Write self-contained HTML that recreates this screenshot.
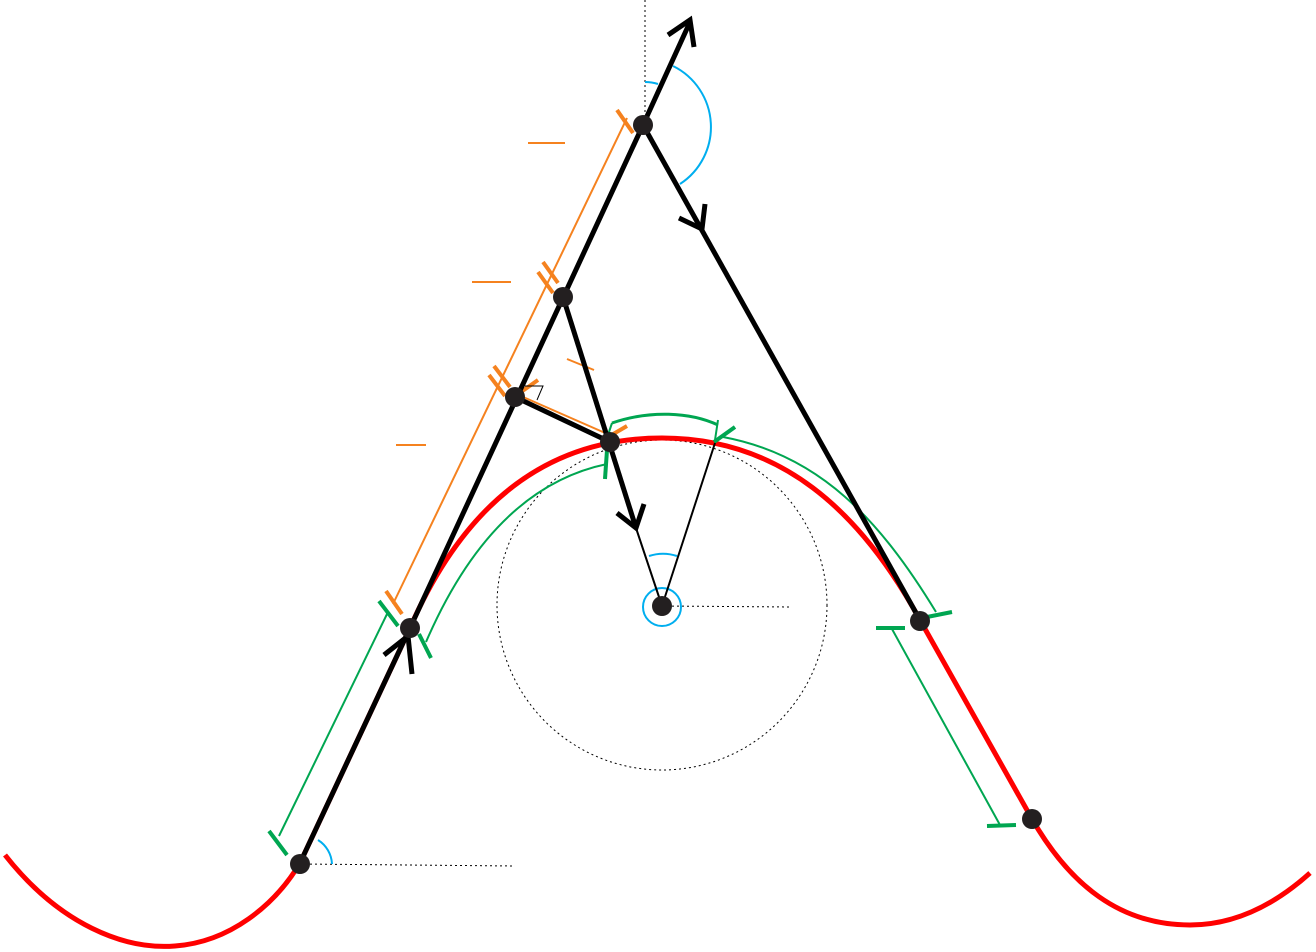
<!DOCTYPE html>
<html><head><meta charset="utf-8"><style>html,body{margin:0;padding:0;background:#fff}svg{display:block}</style></head>
<body>
<svg width="1316" height="952" viewBox="0 0 1316 952" xmlns="http://www.w3.org/2000/svg">
<g fill="none" stroke="#000" stroke-width="1" stroke-dasharray="2,3">
<line x1="645" y1="0" x2="645" y2="125"/>
<line x1="300" y1="864" x2="515" y2="866"/>
<line x1="662" y1="606" x2="792" y2="607"/>
<circle cx="662" cy="605" r="165"/>
</g>
<g fill="none" stroke="#f00" stroke-width="5">
<path d="M5,855 C60,925 125,950 175,946 C230,942 275,905 300,863 L410,628 C470,490 560,438 662,438 C780,438 860,510 920,620 L1032,819 C1070,885 1120,925 1190,925 C1240,925 1280,900 1310,873"/>
</g>
<g fill="none" stroke="#f5821f">
<line x1="393" y1="604" x2="627" y2="118" stroke-width="2"/>
<line x1="386" y1="591" x2="402" y2="614" stroke-width="4"/>
<line x1="617" y1="110" x2="633" y2="133" stroke-width="4"/>
<line x1="538" y1="272" x2="553" y2="293" stroke-width="4"/>
<line x1="543" y1="262" x2="558" y2="283" stroke-width="4"/>
<line x1="489" y1="375" x2="505" y2="396" stroke-width="4"/>
<line x1="494" y1="366" x2="510" y2="387" stroke-width="4"/>
<line x1="514" y1="393" x2="612" y2="436" stroke-width="2"/>
<line x1="514" y1="397" x2="538" y2="380" stroke-width="4"/>
<line x1="603" y1="440" x2="627" y2="426" stroke-width="4"/>
<line x1="528" y1="143" x2="565" y2="143" stroke-width="2"/>
<line x1="472" y1="282" x2="511" y2="282" stroke-width="2"/>
<line x1="396" y1="445" x2="426" y2="445" stroke-width="2"/>
<line x1="567" y1="359" x2="594" y2="370" stroke-width="2"/>
</g>
<g fill="none" stroke="#00a651">
<line x1="279" y1="836" x2="388" y2="612" stroke-width="2"/>
<line x1="269" y1="831" x2="287" y2="855" stroke-width="4"/>
<line x1="379" y1="601" x2="398" y2="626" stroke-width="4"/>
<path d="M426,642 C470,540 530,480 607,464" stroke-width="2"/>
<line x1="419" y1="634" x2="431" y2="658" stroke-width="4"/>
<line x1="607" y1="450" x2="605" y2="479" stroke-width="4"/>
<path d="M612,423 C650,410 690,412 718,425" stroke-width="3"/>
<line x1="612" y1="423" x2="608" y2="435" stroke-width="2"/>
<line x1="718" y1="420" x2="715" y2="440" stroke-width="2"/>
<line x1="714" y1="442" x2="735" y2="427" stroke-width="4"/>
<path d="M723,437 C820,455 880,520 936,612" stroke-width="2"/>
<line x1="922" y1="618" x2="952" y2="612" stroke-width="4"/>
<line x1="892" y1="629" x2="1000" y2="825" stroke-width="2"/>
<line x1="876" y1="628" x2="905" y2="628" stroke-width="4"/>
<line x1="987" y1="826" x2="1016" y2="825" stroke-width="4"/>
</g>
<g fill="none" stroke="#00aeef" stroke-width="2">
<path d="M645,82 A43,43 0 0 1 658,84"/>
<path d="M673,66 A68,68 0 0 1 680,184"/>
<path d="M318,840 A30,30 0 0 1 332,864"/>
<path d="M649,556 A45,45 0 0 1 677,556"/>
<circle cx="662" cy="607" r="19"/>
</g>
<g fill="none" stroke="#000" stroke-linecap="butt">
<line x1="300" y1="863" x2="410" y2="628" stroke-width="5"/>
<path d="M384,655 L408,636 L412,674" stroke-width="5"/>
<line x1="410" y1="628" x2="643" y2="125" stroke-width="5"/>
<line x1="643" y1="125" x2="690" y2="22" stroke-width="5"/>
<path d="M668,35 L690,20 L694,47" stroke-width="5"/>
<line x1="643" y1="125" x2="920" y2="620" stroke-width="5"/>
<path d="M679,218 L702,229 L705,204" stroke-width="5"/>
<line x1="563" y1="297" x2="636" y2="528" stroke-width="5"/>
<path d="M617,513 L636,528 L644,504" stroke-width="5"/>
<line x1="515" y1="397" x2="610" y2="442" stroke-width="5"/>
<line x1="636" y1="528" x2="662" y2="606" stroke-width="2"/>
<line x1="662" y1="606" x2="715" y2="443" stroke-width="2"/>
<path d="M525,386 L543,386 L537,400" stroke-width="1"/>
</g>
<g fill="#231f20">
<circle cx="300" cy="864" r="10"/>
<circle cx="410" cy="628" r="10"/>
<circle cx="515" cy="397" r="10"/>
<circle cx="563" cy="297" r="10"/>
<circle cx="643" cy="125" r="10"/>
<circle cx="610" cy="442" r="10"/>
<circle cx="662" cy="606" r="10"/>
<circle cx="920" cy="621" r="10"/>
<circle cx="1032" cy="819" r="10"/>
</g>
</svg>
</body></html>
